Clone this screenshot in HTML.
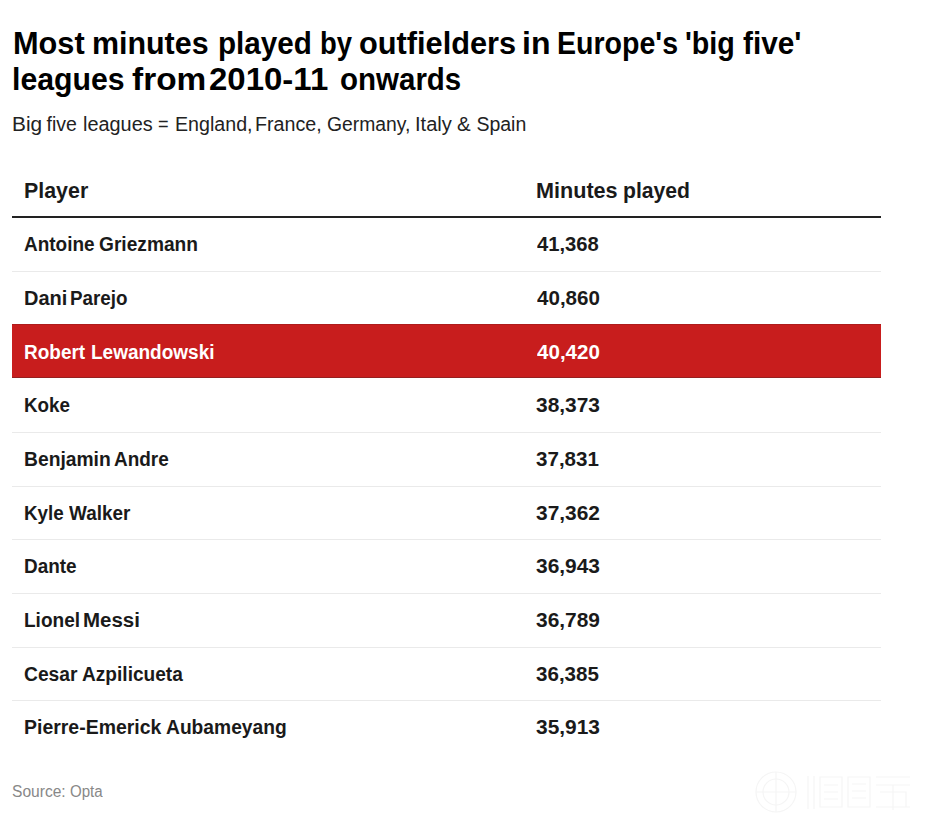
<!DOCTYPE html>
<html><head><meta charset="utf-8">
<style>
html,body{margin:0;padding:0;background:#fff;}
body{width:930px;height:822px;position:relative;overflow:hidden;font-family:"Liberation Sans",sans-serif;}
.ln{position:absolute;left:0;height:0;}
.ln span{position:absolute;top:0;white-space:nowrap;transform-origin:0 0;}
.ti{font-size:32px;line-height:36px;font-weight:bold;color:#000;}
.sub{font-size:19.5px;line-height:24px;color:#222;}
.hd{font-size:22.9px;line-height:26px;font-weight:bold;color:#1a1a1a;}
.rw{font-size:20px;line-height:26px;font-weight:bold;color:#1a1a1a;}
.wh{color:#fff;}
.src{font-size:16px;line-height:20px;color:#888;}
#hline{position:absolute;left:12.3px;width:869px;top:215.8px;height:2px;background:#222;}
.sep{position:absolute;left:12.3px;width:869px;height:1px;background:#eaeaea;}
#red{position:absolute;left:12.3px;width:869px;top:324px;height:54px;background:#c81d1d;}
#red:before{content:"";position:absolute;left:0;right:0;top:0;height:1px;background:#ae1c1c;}
#red:after{content:"";position:absolute;left:0;right:0;bottom:0;height:1px;background:#952020;}
</style></head><body>
<div class="ln ti" style="top:25px"><span style="left:12.58px;transform:scaleX(0.9597)">Most</span><span style="left:92.4px;transform:scaleX(0.95)">minutes</span><span style="left:217.85px;transform:scaleX(0.9258)">played</span><span style="left:320.29px;transform:scaleX(0.8571)">by</span><span style="left:359.24px;transform:scaleX(0.9609)">outfielders</span><span style="left:522.0px">in</span><span style="left:557.22px;transform:scaleX(0.8924)">Europe's</span><span style="left:685.21px;transform:scaleX(0.8962)">'big</span><span style="left:743.37px;transform:scaleX(0.9317)">five'</span></div>
<div class="ln ti" style="top:61px"><span style="left:12.31px;transform:scaleX(0.9457)">leagues</span><span style="left:131.86px;transform:scaleX(1.0441)">from</span><span style="left:209.17px;transform:scaleX(1.0307)">2010-11</span><span style="left:339.88px;transform:scaleX(0.9217)">onwards</span></div>
<div class="ln sub" style="top:112px"><span style="left:11.76px;transform:scaleX(1.068)">Big</span><span style="left:46.5px">five</span><span style="left:82.58px;transform:scaleX(1.0194)">leagues</span><span style="left:158.17px;transform:scaleX(0.93)">=</span><span style="left:174.79px;transform:scaleX(1.0068)">England,</span><span style="left:255.48px;transform:scaleX(1.0079)">France,</span><span style="left:326.91px;transform:scaleX(0.9915)">Germany,</span><span style="left:415.04px;transform:scaleX(1.0294)">Italy</span><span style="left:457.15px;transform:scaleX(1.05)">&amp;</span><span style="left:476.4px">Spain</span></div>
<div class="ln hd" style="top:177.2px"><span style="left:23.93px;transform:scaleX(0.9348)">Player</span><span style="left:535.71px;transform:scaleX(0.944)">Minutes</span><span style="left:622.85px;transform:scaleX(0.9246)">played</span></div>
<div id="hline"></div>
<div id="red"></div>
<div class="sep" style="top:270.90px"></div>
<div class="sep" style="top:431.90px"></div>
<div class="sep" style="top:485.57px"></div>
<div class="sep" style="top:539.24px"></div>
<div class="sep" style="top:592.90px"></div>
<div class="sep" style="top:646.57px"></div>
<div class="sep" style="top:700.24px"></div>
<div class="ln rw" style="top:231.30px"><span style="left:24.05px;transform:scaleX(0.9479)">Antoine</span><span style="left:99.44px;transform:scaleX(0.9574)">Griezmann</span><span style="left:537.3px;transform:scaleX(1.0115)">41,368</span></div>
<div class="ln rw" style="top:284.97px"><span style="left:24.0px">Dani</span><span style="left:70.46px;transform:scaleX(0.9417)">Parejo</span><span style="left:537.3px;transform:scaleX(1.0283)">40,860</span></div>
<div class="ln rw wh" style="top:338.63px"><span style="left:24.05px;transform:scaleX(0.9492)">Robert</span><span style="left:90.75px;transform:scaleX(0.95)">Lewandowski</span><span style="left:537.3px;transform:scaleX(1.0283)">40,420</span></div>
<div class="ln rw" style="top:392.30px"><span style="left:24.06px;transform:scaleX(0.9404)">Koke</span><span style="left:536.25px;transform:scaleX(1.0458)">38,373</span></div>
<div class="ln rw" style="top:445.97px"><span style="left:24.04px;transform:scaleX(0.9636)">Benjamin</span><span style="left:114.45px;transform:scaleX(0.9464)">Andre</span><span style="left:536.27px;transform:scaleX(1.0283)">37,831</span></div>
<div class="ln rw" style="top:499.64px"><span style="left:24.06px;transform:scaleX(0.9415)">Kyle</span><span style="left:68.6px;transform:scaleX(0.9446)">Walker</span><span style="left:536.25px;transform:scaleX(1.0458)">37,362</span></div>
<div class="ln rw" style="top:553.30px"><span style="left:24.05px;transform:scaleX(0.9463)">Dante</span><span style="left:536.25px;transform:scaleX(1.0458)">36,943</span></div>
<div class="ln rw" style="top:606.97px"><span style="left:24.05px;transform:scaleX(0.9509)">Lionel</span><span style="left:83.18px;transform:scaleX(1.0245)">Messi</span><span style="left:536.25px;transform:scaleX(1.0458)">36,789</span></div>
<div class="ln rw" style="top:660.64px"><span style="left:24.04px;transform:scaleX(0.963)">Cesar</span><span style="left:81.74px;transform:scaleX(0.9552)">Azpilicueta</span><span style="left:536.27px;transform:scaleX(1.0283)">36,385</span></div>
<div class="ln rw" style="top:714.30px"><span style="left:24.03px;transform:scaleX(0.9729)">Pierre-Emerick</span><span style="left:165.84px;transform:scaleX(0.961)">Aubameyang</span><span style="left:536.25px;transform:scaleX(1.0458)">35,913</span></div>
<div class="ln src" style="top:782px"><span style="left:12.13px;transform:scaleX(0.9736)">Source:</span><span style="left:69.66px;transform:scaleX(0.9412)">Opta</span></div>
<svg style="position:absolute;left:750px;top:765px" width="170" height="55" viewBox="0 0 170 55"><g fill="none" stroke="#f5f5f5" stroke-width="1.2"><circle cx="26" cy="27" r="20"/><circle cx="26" cy="27" r="13"/><path d="M26 7v40M6 27h40"/><path d="M58 11v33M64 11v33M70 12h22v30h-22zM74 20h14M74 27h14M74 34h14M98 12h22v30h-22zM102 19h14M102 26h14M102 33h14M126 12h34M126 20h34M130 27h26v15M143 20v25M126 42h34"/></g></svg>
</body></html>
